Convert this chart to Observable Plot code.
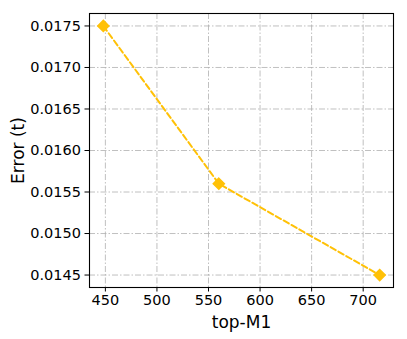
<!DOCTYPE html>
<html>
<head>
<meta charset="utf-8">
<script src="https://cdn.jsdelivr.net/npm/d3@7"></script>
<script src="https://cdn.jsdelivr.net/npm/@observablehq/plot@0.6"></script>
<style>
  html, body { margin: 0; padding: 0; background: #fff; }
  svg { display: block; }
</style>
</head>
<body>
<div id="chart"></div>
<script>
const topM1 = [448, 560, 716];
const errorT = [0.0175, 0.0156, 0.0145];
const xTicks = [450, 500, 550, 600, 650, 700];
const yTicks = [0.0145, 0.0150, 0.0155, 0.0160, 0.0165, 0.0170, 0.0175];

const data = topM1.map((x, i) => ({x, y: errorT[i]}));
const color = "#FFC107";
const font = "DejaVu Sans, sans-serif";

const chart = Plot.plot({
  width: 407,
  height: 339,
  marginLeft: 89,
  marginRight: 14,
  marginTop: 13,
  marginBottom: 52,
  style: {fontFamily: font, fontSize: "13px", color: "#000", background: "#fff"},
  x: {domain: [434.6, 729.4]},
  y: {domain: [0.01435, 0.01765]},
  marks: [
    Plot.ruleX(xTicks, {stroke: "#b0b0b0", strokeWidth: 0.8, strokeDasharray: "6,2,1.5,2"}),
    Plot.ruleY(yTicks, {stroke: "#b0b0b0", strokeWidth: 0.8, strokeDasharray: "6,2,1.5,2"}),
    Plot.axisX({ticks: xTicks, tickSize: 4.5, tickPadding: 3, fontSize: 14.5, label: "top-M1", labelAnchor: "center", labelArrow: "none", labelOffset: 40}),
    Plot.axisY({ticks: yTicks, tickSize: 4.5, tickPadding: 4, fontSize: 14.5, tickFormat: d3.format(".4f"), label: "Error (t)", labelAnchor: "center", labelArrow: "none", labelOffset: 78}),
    Plot.line(data, {x: "x", y: "y", stroke: color, strokeWidth: 2, strokeDasharray: "6,3"}),
    Plot.dot(data, {x: "x", y: "y", symbol: "diamond2", r: 5, fill: color, stroke: color}),
    Plot.frame({stroke: "#000", strokeWidth: 1.1})
  ]
});
chart.querySelectorAll("[aria-label='x-axis label'] text, [aria-label='y-axis label'] text").forEach(t => t.setAttribute("font-size", "17"));
document.getElementById("chart").appendChild(chart);
</script>
</body>
</html>
